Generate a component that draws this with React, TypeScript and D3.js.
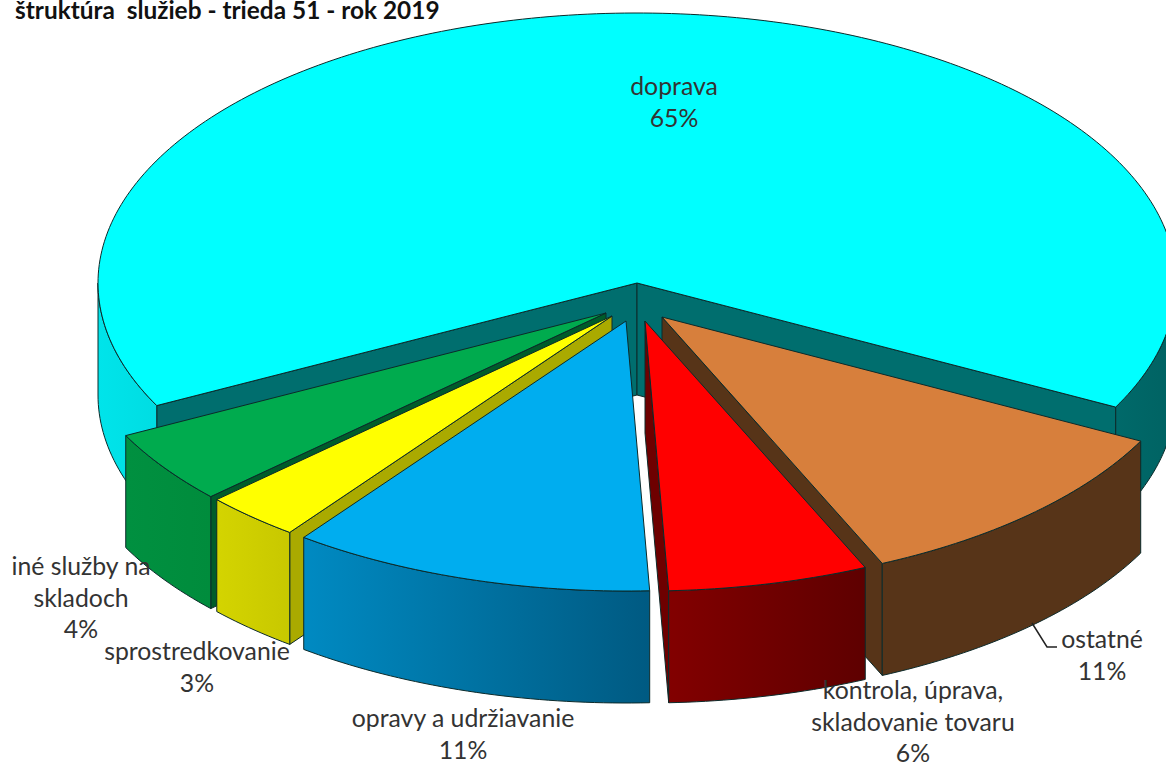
import React from "react";
import * as d3 from "d3";

const W = 1166;
const H = 764;
const title = "štruktúra  služieb - trieda 51 - rok 2019";

// data, in drawing order of the pie (clockwise from the back-left)
const categories = ["doprava", "ostatné", "kontrola, úprava, skladovanie tovaru", "opravy a udržiavanie", "sprostredkovanie", "iné služby na skladoch"];
const shares = [65.1, 10.7, 6.0, 10.9, 2.9, 4.4];

// styling and layout, separate from the data
const topColors = ["#00ffff", "#d77f3c", "#ff0000", "#00adef", "#ffff00", "#00ab4e"];
const cutColors = ["#006e6e", "#573418", "#6e0000", "#005f80", "#aaaa00", "#005c2a"];
const wallStops: [string, string][] = [
  ["#00e4ea", "#006262"],
  ["#573418", "#573418"],
  ["#820000", "#5e0000"],
  ["#008ac2", "#005a82"],
  ["#d4d400", "#c8c800"],
  ["#009040", "#008c3c"],
];
const explodeX = [0, 25, 8, -11, -25, -31];
const explodeY = [0, 34, 38, 38, 33, 30];
const paintOrder = [0, 1, 2, 5, 4, 3];
const labelLines = [
  ["doprava"],
  ["ostatné"],
  ["kontrola, úprava,", "skladovanie tovaru"],
  ["opravy a udržiavanie"],
  ["sprostredkovanie"],
  ["iné služby na", "skladoch"],
];
const labelX = [674, 1102, 913, 463, 197, 81];
const labelY = [95, 648, 699, 727, 660, 575];
const lineGap = 31.5;

const cx = 637;
const cy = 283;
const rx = 539;
const ry = 270;
const depth = 112;
const deg = Math.PI / 180;

const pie = d3
  .pie<number>()
  .sort(null)
  .startAngle(-117 * deg)
  .endAngle(243 * deg);
const arcs = pie(shares);

const xProj = d3.scaleLinear().domain([-1, 1]).range([-rx, rx]);
const yProj = d3.scaleLinear().domain([-1, 1]).range([-ry, ry]);
const pt = (a: number, ox: number, oy: number, down = 0): [number, number] => [
  cx + ox + xProj(Math.sin(a)),
  cy + oy + yProj(-Math.cos(a)) + down,
];
const line = d3.line();

function sampled(a0: number, a1: number) {
  const n = Math.max(2, Math.ceil(Math.abs(a1 - a0) / deg));
  return d3.range(n + 1).map((i) => a0 + ((a1 - a0) * i) / n);
}

function Slice({ i }: { i: number }) {
  const { startAngle: a0, endAngle: a1 } = arcs[i];
  const ox = explodeX[i];
  const oy = explodeY[i];
  const apex: [number, number] = [cx + ox, cy + oy];
  const apexLow: [number, number] = [apex[0], apex[1] + depth];
  const mid = pt((a0 + a1) / 2, ox, oy);

  // a cut face shows when moving down takes its edge off the top surface
  const shows = (a: number) => {
    const p = pt(a, ox, oy);
    const ex = p[0] - apex[0];
    const ey = p[1] - apex[1];
    const downSide = ex * depth;
    const midSide = ex * (mid[1] - apex[1]) - ey * (mid[0] - apex[0]);
    return downSide * midSide < 0;
  };
  const cut = (a: number) =>
    line([apex, pt(a, ox, oy), pt(a, ox, oy, depth), apexLow]) + "Z";

  // rim wall: the part of the arc that faces the viewer
  const wallRanges: [number, number][] = [];
  [[90 * deg, 270 * deg]].forEach(([f0, f1]) => {
    const s = Math.max(a0, f0);
    const e = Math.min(a1, f1);
    if (e > s) wallRanges.push([s, e]);
  });
  if (i === 0) {
    // the big slice wraps around the back, its rim shows on both sides
    wallRanges.length = 0;
    wallRanges.push([90 * deg, a1], [a0, -90 * deg]);
  }

  const strokeProps = { stroke: "#0c2a2a", strokeWidth: 1, strokeLinejoin: "round" as const };

  const top = sampled(a0, a1).map((a) => pt(a, ox, oy));
  return (
    <g>
      {[a0, a1].filter(shows).map((a, k) => (
        <path key={k} d={cut(a)} fill={cutColors[i]} {...strokeProps} />
      ))}
      {wallRanges.map(([s, e], k) => {
        const upper = sampled(s, e).map((a) => pt(a, ox, oy));
        const lower = sampled(s, e)
          .reverse()
          .map((a) => pt(a, ox, oy, depth));
        return <path key={k} d={line([...upper, ...lower]) + "Z"} fill={`url(#wall${i})`} {...strokeProps} />;
      })}
      <path d={line([apex, ...top]) + "Z"} fill={topColors[i]} {...strokeProps} />
    </g>
  );
}

function wallExtent(i: number): [number, number] {
  if (i === 0) return [cx - rx, cx + rx];
  const xs = sampled(arcs[i].startAngle, arcs[i].endAngle).map((a) => pt(a, explodeX[i], explodeY[i])[0]);
  return [d3.min(xs) as number, d3.max(xs) as number];
}

export default function App() {
  const font = "Lato, Carlito, sans-serif";
  return (
    <svg
      width={W}
      height={H}
      viewBox={`0 0 ${W} ${H}`}
      style={{ position: "absolute", left: 0, top: 0, background: "#fff" }}
      fontFamily={font}
    >
      <defs>
        {shares.map((_, i) => {
          const [x0, x1] = wallExtent(i);
          return (
            <linearGradient key={i} id={`wall${i}`} gradientUnits="userSpaceOnUse" x1={x0} x2={x1} y1={0} y2={0}>
              <stop offset="0" stopColor={wallStops[i][0]} />
              <stop offset="1" stopColor={wallStops[i][1]} />
            </linearGradient>
          );
        })}
      </defs>
      <text x={15} y={19} fontSize={24.4} fontWeight={700} fill="#111" xmlSpace="preserve">
        {title}
      </text>
      {paintOrder.map((i) => (
        <Slice key={i} i={i} />
      ))}
      <path d="M1032,623 L1047,647 L1057,647" fill="none" stroke="#222" strokeWidth={1.5} />
      {categories.map((c, i) => {
        const lines = [...labelLines[i], `${Math.round(shares[i])}%`];
        return (
          <text key={c} fontSize={24.8} fill="#333" textAnchor="middle">
            {lines.map((l, k) => (
              <tspan key={k} x={labelX[i]} y={labelY[i] + k * lineGap}>
                {l}
              </tspan>
            ))}
          </text>
        );
      })}
    </svg>
  );
}
